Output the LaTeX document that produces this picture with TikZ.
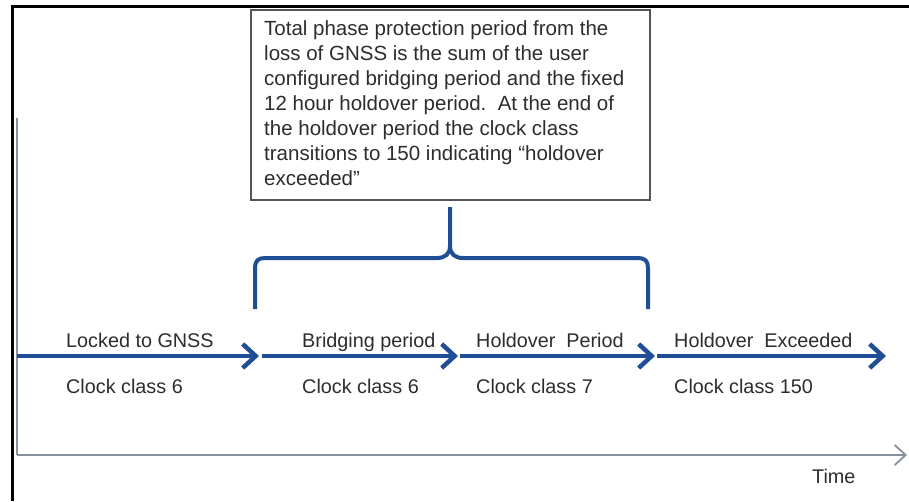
\documentclass[tikz,border=0pt]{standalone}
\usepackage{fontspec}
\setmainfont{Liberation Sans}
\usetikzlibrary{arrows.meta}
\definecolor{flowblue}{RGB}{31,78,150}
\definecolor{axisgray}{RGB}{135,145,158}
\definecolor{txtgray}{RGB}{45,45,45}
\definecolor{boxgray}{RGB}{85,85,85}
\begin{document}
\begin{tikzpicture}[x=1pt,y=-1pt,
  lbl/.style={anchor=base west, inner sep=0pt, text=txtgray, font=\fontsize{19.8}{25}\selectfont},
  notetext/.style={anchor=north west, align=left, inner sep=0pt, text=txtgray, font=\fontsize{20.5}{25}\selectfont},
  flow/.style={draw=flowblue, line width=4.5pt, -{Straight Barb[length=13pt,width=24pt,line width=4.5pt]}},
  axisline/.style={draw=axisgray, line width=1.8pt},
  bracepath/.style={draw=flowblue, line width=4pt},
  notebox/.style={draw=boxgray, line width=1.5pt, minimum width=399pt, minimum height=190pt, anchor=north west, inner sep=0pt}]
\useasboundingbox (0,0) rectangle (909,501);
\fill[white] (0,0) rectangle (909,501);
% outer frame
\draw[line width=3pt] (12.5,501) -- (12.5,6.5) -- (909,6.5);
% axes
\coordinate (ytop) at (17,118);
\coordinate (origin) at (17,455);
\coordinate (xend) at (907,455);
\draw[axisline] (ytop) -- (origin);
\draw[axisline, -{Straight Barb[length=11pt,width=20pt,line width=1.8pt]}] (origin) -- (xend);
\node[lbl] (time) at (812,483) {Time};
% flow arrows
\coordinate (a0) at (17,356);
\coordinate (a1) at (259,356);
\coordinate (b0) at (262,356);
\coordinate (b1) at (458,356);
\coordinate (c0) at (460,356);
\coordinate (c1) at (655,356);
\coordinate (d0) at (657,356);
\coordinate (d1) at (886,356);
\draw[flow] (a0) -- (a1);
\draw[flow] (b0) -- (b1);
\draw[flow] (c0) -- (c1);
\draw[flow] (d0) -- (d1);
% labels
\node[lbl] (locked) at (66,347) {Locked to GNSS};
\node[lbl] (cc1) at (66,393) {Clock class 6};
\node[lbl] (bridge) at (302,347) {Bridging period};
\node[lbl] (cc2) at (302,393) {Clock class 6};
\node[lbl] (hold) at (476,347) {Holdover\ \ Period};
\node[lbl] (cc3) at (476,393) {Clock class 7};
\node[lbl] (exc) at (674,347) {Holdover\ \ Exceeded};
\node[lbl] (cc4) at (674,393) {Clock class 150};
% note box
\node[notebox] (box) at (250,9) {};
\node[notetext] (note) at (264,20) {Total phase protection period from the\\loss of GNSS is the sum of the user\\configured bridging period and the fixed\\12 hour holdover period.\ \ At the end of\\the holdover period the clock class\\transitions to 150 indicating “holdover\\exceeded”};
% brace
\coordinate (brL) at (255,309);
\coordinate (brR) at (648,309);
\coordinate (brTip) at (450,207);
\coordinate (cusp) at (450,246);
\draw[bracepath] (brL) -- (255,268) .. controls (255,261) and (258,258) .. (265,258) -- (437,258) .. controls (445,258) and (450,254) .. (cusp) -- (brTip);
\draw[bracepath] (brR) -- (648,268) .. controls (648,261) and (645,258) .. (638,258) -- (463,258) .. controls (455,258) and (450,254) .. (cusp);
\end{tikzpicture}
\end{document}
